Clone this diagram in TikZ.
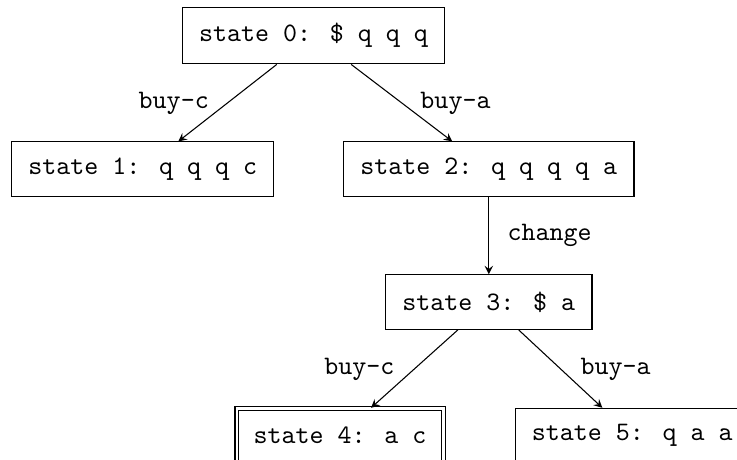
\documentclass[tikz,border=0pt]{standalone}
\usetikzlibrary{arrows}
\begin{document}
\begin{tikzpicture}[font=\ttfamily,>=stealth,
		statebox/.style={draw,inner xsep=6.3pt,inner ysep=6pt,minimum height=20.5pt},
		finalbox/.style={statebox,double,double distance=1pt}]
		\useasboundingbox (0,0) rectangle (9.71,-6.05);
		\node[statebox] (s0) at (4.13,-0.47) {state 0: \$ q q q};
		\node[statebox] (s1) at (1.88,-2.23) {state 1: q q q c};
		\node[statebox] (s2) at (6.44,-2.23) {state 2: q q q q a};
		\node[statebox] (s3) at (6.44,-3.98) {state 3: \$ a};
		\node[finalbox] (s4) at (4.48,-5.74) {state 4: a c};
		\node[statebox] (s5) at (8.33,-5.74) {state 5: q a a};
		\draw[->] (s0) -- node[midway,left=3.5pt] {buy-c} (s1);
		\draw[->] (s0) -- node[midway,right=3.5pt] {buy-a} (s2);
		\draw[->] (s2) -- node[midway,right=3.5pt] {change} (s3);
		\draw[->] (s3) -- node[midway,left=4pt] {buy-c} (s4);
		\draw[->] (s3) -- node[midway,right=4pt] {buy-a} (s5);
	\end{tikzpicture}
\end{document}
